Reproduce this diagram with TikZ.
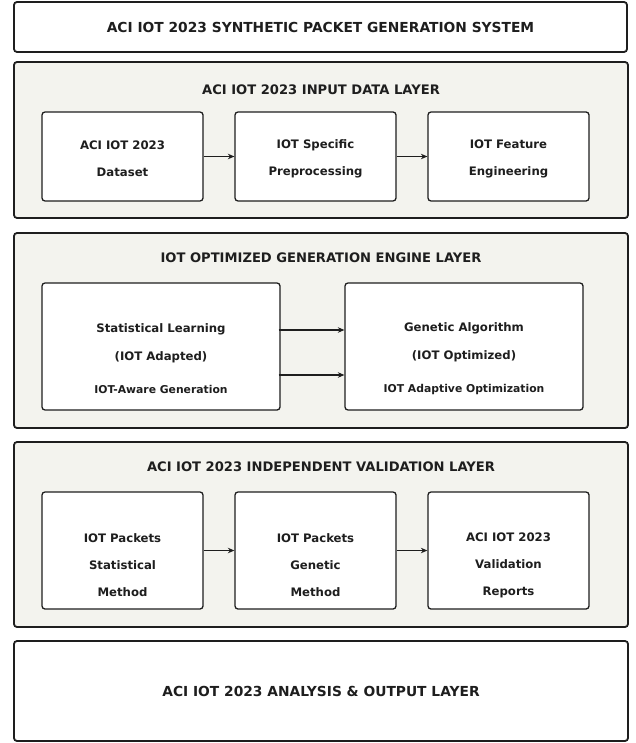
\documentclass[tikz,border=0pt]{standalone}
\usepackage{fontspec}
\setmainfont{DejaVu Sans}
\usetikzlibrary{arrows.meta}

\definecolor{ink}{HTML}{1E1E1E}
\definecolor{layerbg}{HTML}{F3F3EE}

\tikzset{
	frame/.style={draw=ink,line width=1.8pt,rounded corners=3pt,fill=white},
	layer/.style={frame,fill=layerbg},
	unit/.style={draw=ink,line width=1.3pt,rounded corners=3pt,fill=white},
	unittext/.style={align=center,text=ink,font=\bfseries\fontsize{11.7}{11.7}\selectfont},
	heading/.style={text=ink,font=\bfseries\fontsize{13.1}{13.1}\selectfont},
	bigheading/.style={text=ink,font=\bfseries\fontsize{13.8}{13.8}\selectfont},
	link/.style={-{Stealth[length=6.5pt,width=5.5pt]},draw=ink,line width=1.4pt}
}

\begin{document}
\begin{tikzpicture}[x=1pt,y=-1pt]
	\useasboundingbox (0,0) rectangle (635,743);

	% top banner
	\node[frame,minimum width=613pt,minimum height=50pt] (sys) at (320.5,27) {};
	\node[bigheading] (systitle) at (sys) {ACI IOT 2023 SYNTHETIC PACKET GENERATION SYSTEM};

	% layer frames
	\node[layer,minimum width=614pt,minimum height=156pt] (inlayer) at (321,140) {};
	\node[layer,minimum width=614pt,minimum height=195pt] (genlayer) at (321,330.5) {};
	\node[layer,minimum width=614pt,minimum height=185pt] (vallayer) at (321,534.5) {};
	\node[frame,minimum width=614pt,minimum height=100pt] (outlayer) at (321,691) {};

	\node[heading] (intitle) at (321,90) {ACI IOT 2023 INPUT DATA LAYER};
	\node[heading] (gentitle) at (321,258) {IOT OPTIMIZED GENERATION ENGINE LAYER};
	\node[heading] (valtitle) at (321,467) {ACI IOT 2023 INDEPENDENT VALIDATION LAYER};
	\node[bigheading] (outtitle) at (outlayer) {ACI IOT 2023 ANALYSIS \& OUTPUT LAYER};

	% input layer
	\node[unit,minimum width=161pt,minimum height=89pt] (dataset) at (122.5,156.5) {};
	\node[unit,minimum width=161pt,minimum height=89pt] (prep) at (315.5,156.5) {};
	\node[unit,minimum width=161pt,minimum height=89pt] (feat) at (508.5,156.5) {};
	\node[unittext] (datasettext) at (122.5,159) {ACI IOT 2023\\[15.3pt]Dataset};
	\node[unittext] (preptext) at (315.5,159) {IOT Specific\\[15.3pt]Preprocessing};
	\node[unittext] (feattext) at (508.5,159) {IOT Feature\\[15.3pt]Engineering};
	\draw[link] (dataset) -- (prep);
	\draw[link] (prep) -- (feat);

	% generation engine layer
	\node[unit,minimum width=238pt,minimum height=127pt] (stat) at (161,346.5) {};
	\node[unit,minimum width=238pt,minimum height=127pt] (genetic) at (464,346.5) {};
	\node[unittext] (stattext) at (161,358.5) {Statistical Learning\\[16.3pt](IOT Adapted)\\[21.3pt]{\fontsize{10.8}{10.8}\selectfont IOT-Aware Generation}};
	\node[unittext] (genetictext) at (464,358.5) {Genetic Algorithm\\[16.3pt](IOT Optimized)\\[21.3pt]{\fontsize{10.8}{10.8}\selectfont IOT Adaptive Optimization}};
	\draw[link] ([xshift=-2pt,yshift=16.5pt]stat.east) -- ([yshift=16.5pt]genetic.west);
	\draw[link] ([xshift=-2pt,yshift=-28.5pt]stat.east) -- ([yshift=-28.5pt]genetic.west);

	% validation layer
	\node[unit,minimum width=161pt,minimum height=117pt] (statpk) at (122.5,550.5) {};
	\node[unit,minimum width=161pt,minimum height=117pt] (genpk) at (315.5,550.5) {};
	\node[unit,minimum width=161pt,minimum height=117pt] (reports) at (508.5,550.5) {};
	\node[unittext] (statpktext) at (122.5,565) {IOT Packets\\[15.3pt]Statistical\\[15.3pt]Method};
	\node[unittext] (genpktext) at (315.5,565) {IOT Packets\\[15.3pt]Genetic\\[15.3pt]Method};
	\node[unittext] (reportstext) at (508.5,565) {ACI IOT 2023\\[15.3pt]Validation\\[15.3pt]Reports};
	\draw[link] (statpk) -- (genpk);
	\draw[link] (genpk) -- (reports);
\end{tikzpicture}
\end{document}
